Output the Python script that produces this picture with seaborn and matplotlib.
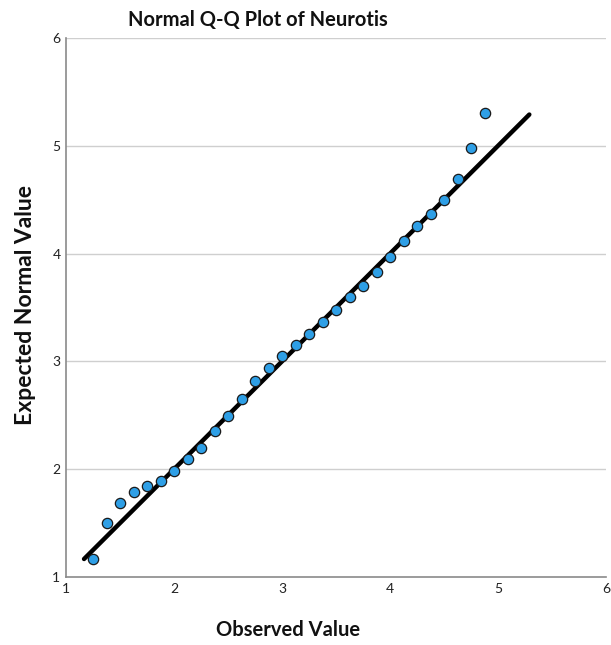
import matplotlib
matplotlib.use("Agg")
import matplotlib.pyplot as plt
import seaborn as sns
import pandas as pd

observed = [1.25, 1.375, 1.5, 1.625, 1.75, 1.875, 2.0, 2.125, 2.25, 2.375,
            2.5, 2.625, 2.75, 2.875, 3.0, 3.125, 3.25, 3.375, 3.5, 3.625,
            3.75, 3.875, 4.0, 4.125, 4.25, 4.375, 4.5, 4.625, 4.75, 4.875]
expected = [1.167, 1.50, 1.686, 1.79, 1.844, 1.89, 1.98, 2.09, 2.20, 2.354,
            2.49, 2.65, 2.82, 2.94, 3.05, 3.15, 3.254, 3.365, 3.477, 3.597,
            3.70, 3.83, 3.97, 4.117, 4.256, 4.367, 4.497, 4.692, 4.98, 5.30]
ref_line = [1.167, 5.29]
ticks = [1, 2, 3, 4, 5, 6]

sns.set_theme(style="white")
plt.rcParams['font.family'] = ['Lato', 'DejaVu Sans']

fig = plt.figure(figsize=(6.11, 6.45), dpi=100)
ax = fig.add_axes([66/611, 1-577/645, 540/611, 539/645])

df = pd.DataFrame({"Observed Value": observed, "Expected Normal Value": expected})
line_df = pd.DataFrame({"x": ref_line, "y": ref_line})

sns.lineplot(data=line_df, x="x", y="y", color="black", linewidth=3.2, ax=ax, zorder=2)
sns.scatterplot(data=df, x="Observed Value", y="Expected Normal Value", ax=ax,
                color="#2e9fe6", edgecolor="#1a1a1a", linewidth=0.9, s=55, zorder=3)

ax.set_xlim(1, 6)
ax.set_ylim(1, 6)
ax.set_xticks(ticks)
ax.set_yticks(ticks)
ax.set_xticklabels([str(t) for t in ticks], fontsize=10, color="#222222")
ax.set_yticklabels([str(t) for t in ticks], fontsize=10, color="#222222")
ax.tick_params(axis='both', length=0, pad=4)
for t in ticks[1:]:
    ax.axhline(t, color="#cfcfcf", linewidth=1.0, zorder=0)

for s in ["top", "right"]:
    ax.spines[s].set_visible(False)
for s in ["left", "bottom"]:
    ax.spines[s].set_color("#8a8a8a")
    ax.spines[s].set_linewidth(1.2)

ax.set_xlabel("")
ax.set_ylabel("")
fig.text(288/611, 1-630/645, "Observed Value", ha="center", va="center",
         fontsize=14.5, fontweight="bold", color="#111111")
fig.text(26/611, 1-305/645, "Expected Normal Value", ha="center", va="center",
         rotation=90, fontsize=16.5, fontweight="bold", color="#111111")
fig.text(258/611, 1-20/645, "Normal Q-Q Plot of Neurotis", ha="center", va="center",
         fontsize=14.5, fontweight="bold", color="#111111")

fig.savefig("out.png", dpi=100)
